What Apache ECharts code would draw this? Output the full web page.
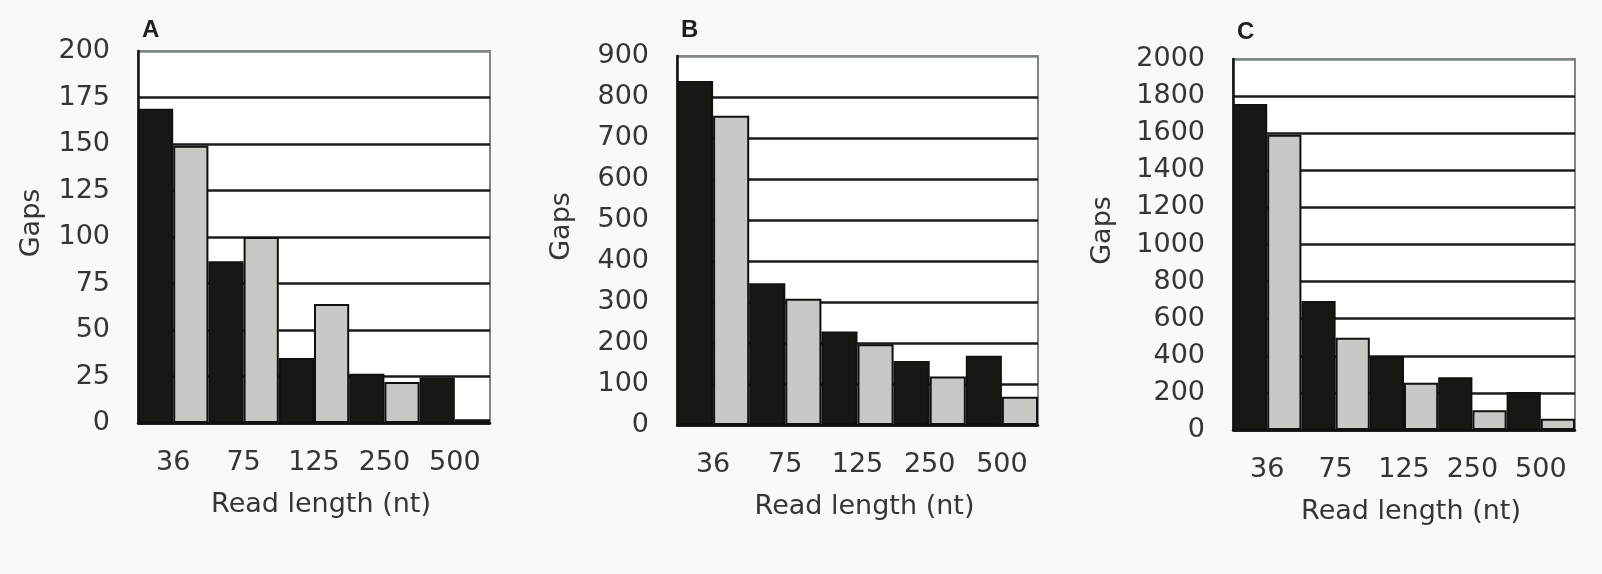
<!DOCTYPE html>
<html>
<head>
<meta charset="utf-8">
<script src="https://cdn.jsdelivr.net/npm/echarts@6/dist/echarts.min.js"></script>
<style>
html,body{margin:0;padding:0;background:#f9f9f9;}
#c{width:1602px;height:574px;}
</style>
</head>
<body>
<div id="c"></div>
<script>
const categories = ['36', '75', '125', '250', '500'];
const panelLabels = ['A', 'B', 'C'];
const xTitle = 'Read length (nt)';
const yTitle = 'Gaps';

const aBlack = [169, 87, 35, 26.5, 24.5];
const aGrey  = [149, 100, 64, 22, 2];
const bBlack = [839, 346, 228, 156, 169];
const bGrey  = [754, 308, 197, 118, 69];
const cBlack = [1758, 695, 397, 285, 205];
const cGrey  = [1591, 497, 255, 106, 61];

const yMax = [200, 900, 2000];
const yStep = [25, 100, 200];

const blacks = [aBlack, bBlack, cBlack];
const greys = [aGrey, bGrey, cGrey];

const grids = [
  {left: 138, top: 51, width: 352, height: 372},
  {left: 677, top: 56, width: 361, height: 369},
  {left: 1233, top: 59, width: 342, height: 371}
];

const font = 'DejaVu Sans';
const textCol = '#353535';
const fs = 27;

const option = {
  backgroundColor: '#f9f9f9',
  animation: false,
  title: panelLabels.map((t, i) => ({
    text: t,
    left: grids[i].left - 1,
    top: [13, 13, 15][i],
    textStyle: {fontFamily: 'Liberation Sans', fontSize: 24, fontWeight: 'bold', color: '#1e1e1e'}
  })),
  grid: grids.map(g => Object.assign({
    show: true, borderColor: '#7f8786', borderWidth: 2, backgroundColor: '#ffffff'
  }, g)),
  xAxis: grids.map((g, i) => ({
    type: 'category',
    gridIndex: i,
    data: categories,
    axisLine: {show: true, lineStyle: {color: '#111', width: 2.5}},
    axisTick: {show: false},
    axisLabel: {margin: 26, fontFamily: font, fontSize: fs, color: textCol},
    name: xTitle,
    nameLocation: 'middle',
    nameGap: 68,
    nameTextStyle: {fontFamily: font, fontSize: fs, color: textCol, padding: [0, 0, 0, 14]}
  })),
  yAxis: grids.map((g, i) => {
    const n = yMax[i] / yStep[i];
    const cols = [];
    for (let k = 0; k < n; k++) cols.push('#1c1c1c');
    cols.push('#7f8786');
    return {
      type: 'value',
      gridIndex: i,
      min: 0, max: yMax[i], interval: yStep[i],
      axisLine: {show: true, lineStyle: {color: '#111', width: 2.5}},
      axisTick: {show: false},
      axisLabel: {margin: 28, fontFamily: font, fontSize: fs, color: textCol,
        formatter: v => String(v)},
      splitLine: {show: true, lineStyle: {color: cols, width: 2.5}},
      name: yTitle,
      nameLocation: 'middle',
      nameGap: [93, 102, 117][i],
      nameRotate: 90,
      nameTextStyle: {fontFamily: font, fontSize: fs, color: textCol, padding: [0, 0, 0, 28]}
    };
  }),
  series: []
};

for (let i = 0; i < 3; i++) {
  option.series.push({
    type: 'bar', xAxisIndex: i, yAxisIndex: i, data: blacks[i],
    barGap: '0%', barCategoryGap: '0%',
    itemStyle: {color: '#161814', borderColor: '#111', borderWidth: 2}
  });
  option.series.push({
    type: 'bar', xAxisIndex: i, yAxisIndex: i, data: greys[i],
    barGap: '0%', barCategoryGap: '0%',
    itemStyle: {color: '#c7c9c5', borderColor: '#111', borderWidth: 2}
  });
}

const chart = echarts.init(document.getElementById('c'));
chart.setOption(option);
</script>
</body>
</html>
